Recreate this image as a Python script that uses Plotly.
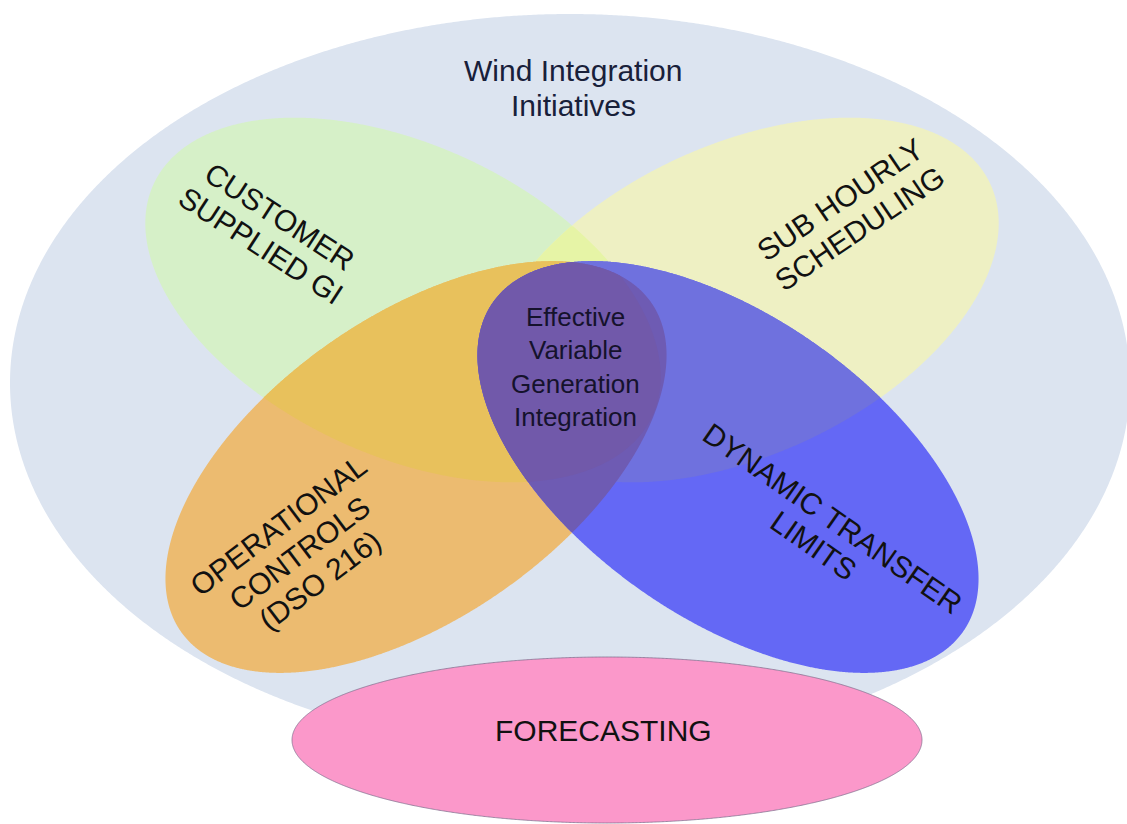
import numpy as np
import plotly.graph_objects as go

# ---- text content -------------------------------------------------------
title_lines = ["Wind Integration", "Initiatives"]
core_lines = ["Effective", "Variable", "Generation", "Integration"]
petal_names = ["customer", "subhourly", "operational", "dynamic"]
petal_lines = [
    ["CUSTOMER", "SUPPLIED GI"],
    ["SUB HOURLY", "SCHEDULING"],
    ["OPERATIONAL", "CONTROLS", "(DSO 216)"],
    ["DYNAMIC TRANSFER", "LIMITS"],
]
base_label = "FORECASTING"

# ---- canvas -------------------------------------------------------------
W, H = 1127, 824

# ellipses: centre, semi-axes, clockwise tilt of the major axis (screen, y down)
ELL = {
    "outer":       dict(cx=570, cy=383, a=560, b=369, t=0),
    "customer":    dict(cx=403, cy=300, a=275, b=155, t=25),
    "subhourly":   dict(cx=741, cy=300, a=275, b=155, t=-25),
    "operational": dict(cx=416, cy=467, a=287, b=151, t=-35),
    "dynamic":     dict(cx=728, cy=467, a=287, b=151, t=35),
    "forecast":    dict(cx=607, cy=740, a=315, b=83, t=0),
}

COL = {
    "outer": "#DCE4F0",
    "customer": "#D6F0C8",
    "subhourly": "#EEF0C3",
    "cust_sub": "#E6F4A6",
    "operational": "#ECBB70",
    "op_cust": "#E8C15C",
    "dynamic": "#6468F5",
    "dyn_sub": "#6F71DE",
    "core": "#7159AA",
    "core_low": "#6E5BB3",
    "forecast": "#FB98CA",
}


def boundary(e, n=1440):
    s = np.linspace(0, 2 * np.pi, n, endpoint=False)
    th = np.radians(e["t"])
    x = e["cx"] + e["a"] * np.cos(s) * np.cos(th) - e["b"] * np.sin(s) * np.sin(th)
    y = e["cy"] + e["a"] * np.cos(s) * np.sin(th) + e["b"] * np.sin(s) * np.cos(th)
    return x, y


def inside(e, x, y):
    th = np.radians(e["t"])
    dx, dy = x - e["cx"], y - e["cy"]
    u = dx * np.cos(th) + dy * np.sin(th)
    v = -dx * np.sin(th) + dy * np.cos(th)
    return (u / e["a"]) ** 2 + (v / e["b"]) ** 2 <= 1.0 + 1e-9


def intersect(*names):
    """Polygon of the overlap of several (convex) ellipses."""
    xs, ys = [], []
    for i, nm in enumerate(names):
        bx, by = boundary(ELL[nm])
        keep = np.ones_like(bx, dtype=bool)
        for j, other in enumerate(names):
            if j != i:
                keep &= inside(ELL[other], bx, by)
        xs.append(bx[keep])
        ys.append(by[keep])
    x = np.concatenate(xs)
    y = np.concatenate(ys)
    mx, my = x.mean(), y.mean()
    order = np.argsort(np.arctan2(y - my, x - mx))
    return x[order], y[order]


def to_path(x, y):
    pts = " L ".join(f"{a:.2f},{b:.2f}" for a, b in zip(x, y))
    return f"M {pts} Z"


fig = go.Figure()


def add_region(x, y, color, line=None):
    fig.add_shape(
        type="path", path=to_path(x, y), xref="x", yref="y",
        fillcolor=color, line=line or dict(width=0), layer="above",
    )


# background "initiatives" ellipse
add_region(*boundary(ELL["outer"]), COL["outer"])
# upper petals
add_region(*boundary(ELL["customer"]), COL["customer"])
add_region(*boundary(ELL["subhourly"]), COL["subhourly"])
add_region(*intersect("customer", "subhourly"), COL["cust_sub"])
# lower petals and their overlaps
add_region(*boundary(ELL["operational"]), COL["operational"])
add_region(*intersect("operational", "customer"), COL["op_cust"])
add_region(*boundary(ELL["dynamic"]), COL["dynamic"])
add_region(*intersect("dynamic", "subhourly"), COL["dyn_sub"])
add_region(*intersect("operational", "dynamic"), COL["core_low"])
add_region(*intersect("operational", "dynamic", "customer"), COL["core"])
# forecasting base
add_region(*boundary(ELL["forecast"]), COL["forecast"],
           line=dict(color="rgba(125,110,140,0.75)", width=1))

FONT = "Liberation Sans, Arial, sans-serif"


def add_block(lines, cx, cy, angle, spacing, size, color):
    th = np.radians(angle)
    nx, ny = -np.sin(th), np.cos(th)
    n = len(lines)
    for k, txt in enumerate(lines):
        off = (k - (n - 1) / 2) * spacing
        fig.add_annotation(
            x=cx + off * nx, y=cy + off * ny, xref="x", yref="y",
            text=txt, textangle=angle, showarrow=False,
            xanchor="center", yanchor="middle",
            font=dict(family=FONT, size=size, color=color),
        )


add_block(title_lines, 573, 88, 0, 35, 30, "#18203A")
add_block(core_lines, 575, 367, 0, 33.5, 26, "#15122C")

label_place = {
    "customer":    (270, 231, 33, 34),
    "subhourly":   (850, 214, -34, 34),
    "operational": (299, 553, -37, 34),
    "dynamic":     (823, 532, 35, 34),
}
for nm, lines in zip(petal_names, petal_lines):
    cx, cy, ang, sp = label_place[nm]
    add_block(lines, cx, cy, ang, sp, 30, "#111111")

add_block([base_label], 603, 730, 0, 0, 30, "#111111")

fig.update_layout(
    width=W, height=H,
    margin=dict(l=0, r=0, t=0, b=0),
    paper_bgcolor="white", plot_bgcolor="white",
    showlegend=False,
)
fig.update_xaxes(range=[0, W], visible=False, fixedrange=True)
fig.update_yaxes(range=[H, 0], visible=False, fixedrange=True)

fig.write_html("out.html", config={"displayModeBar": False})
